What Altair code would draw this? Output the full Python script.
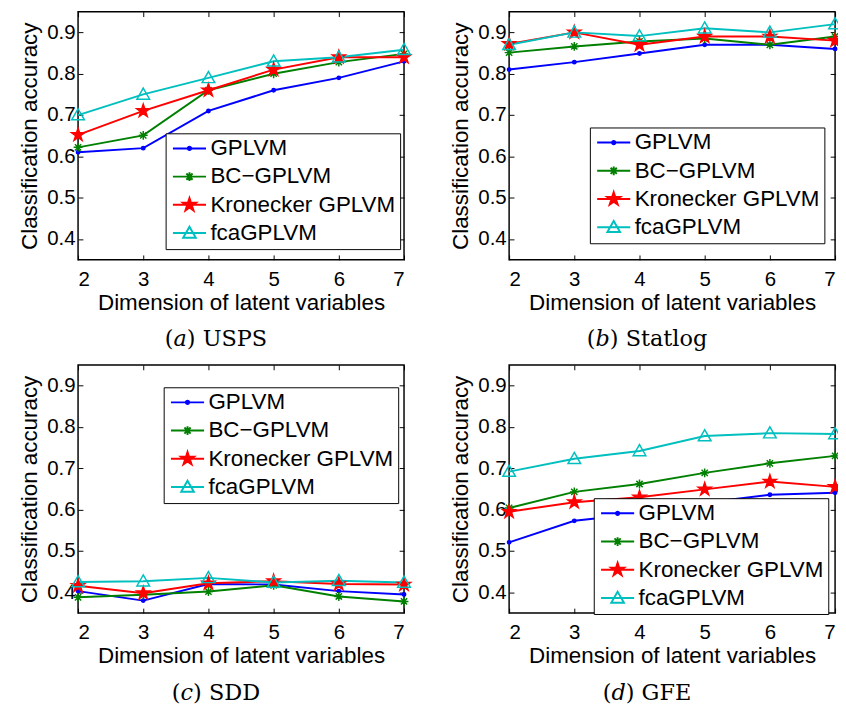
import math
import altair as alt
import pandas as pd

DIMS = [2, 3, 4, 5, 6, 7]
YTICKS = [0.4, 0.5, 0.6, 0.7, 0.8, 0.9]
SERIES = ["GPLVM", "BC−GPLVM", "Kronecker GPLVM", "fcaGPLVM"]
COLORS = ["#0000ff", "#008000", "#ff0000", "#00bfbf"]
FILLS = ["#0000ff", "#008000", "#ff0000", "transparent"]

USPS_GPLVM = [0.61, 0.62, 0.71, 0.76, 0.79, 0.83]
USPS_BC = [0.622, 0.651, 0.76, 0.80, 0.828, 0.848]
USPS_KRON = [0.652, 0.71, 0.76, 0.81, 0.84, 0.84]
USPS_FCA = [0.70, 0.75, 0.79, 0.83, 0.84, 0.858]

STAT_GPLVM = [0.81, 0.828, 0.849, 0.87, 0.87, 0.86]
STAT_BC = [0.851, 0.866, 0.878, 0.885, 0.87, 0.89]
STAT_KRON = [0.872, 0.90, 0.87, 0.89, 0.89, 0.88]
STAT_FCA = [0.87, 0.90, 0.891, 0.91, 0.90, 0.92]

SDD_GPLVM = [0.403, 0.38, 0.42, 0.419, 0.403, 0.395]
SDD_BC = [0.388, 0.394, 0.402, 0.417, 0.39, 0.378]
SDD_KRON = [0.416, 0.398, 0.422, 0.427, 0.42, 0.419]
SDD_FCA = [0.425, 0.427, 0.435, 0.424, 0.428, 0.424]

GFE_GPLVM = [0.521, 0.573, 0.59, 0.617, 0.636, 0.641]
GFE_BC = [0.604, 0.643, 0.662, 0.689, 0.712, 0.73]
GFE_KRON = [0.595, 0.618, 0.63, 0.649, 0.668, 0.655]
GFE_FCA = [0.692, 0.723, 0.742, 0.778, 0.785, 0.783]

W, H = 335, 255
FONT = "Liberation Sans"


# ---- marker shapes (unit square paths) ----
def star_path(R, cx=0.0):
    pts = []
    for i in range(10):
        a = -math.pi / 2 + i * math.pi / 5
        r = R if i % 2 == 0 else R * 0.382
        pts.append(f"{cx + r * math.cos(a):.3f},{r * math.sin(a):.3f}")
    return "M" + "L".join(pts) + "Z"


def tri_path(R):
    return f"M0,{-R:.3f}L{R:.3f},{0.75 * R:.3f}L{-R:.3f},{0.75 * R:.3f}Z"


def ast_path(R):
    a = R * 0.707
    return (f"M{-R:.3f},0L{R:.3f},0M0,{-R:.3f}L0,{R:.3f}"
            f"M{-a:.3f},{-a:.3f}L{a:.3f},{a:.3f}M{-a:.3f},{a:.3f}L{a:.3f},{-a:.3f}")


def dot_path(R):
    return f"M{-R:.3f},0A{R:.3f},{R:.3f} 0 1,0 {R:.3f},0A{R:.3f},{R:.3f} 0 1,0 {-R:.3f},0Z"


# plot markers: size 196 -> 7 px per unit
MARKERS = [dot_path(0.25), ast_path(0.65), star_path(1.0), tri_path(0.93)]
# legend markers: size 400 -> 10 px per unit, with line through
LINE = "M-1.7,0L1.7,0"
LEG_MARKERS = [LINE + dot_path(0.17), LINE + ast_path(0.45),
               LINE + star_path(0.7), LINE + tri_path(0.65)]


def make_df(series_lists):
    rows = []
    for name, vals in zip(SERIES, series_lists):
        for d, v in zip(DIMS, vals):
            rows.append({"series": name, "dim": d, "acc": v})
    return pd.DataFrame(rows)


def tick_axis(orient, offset, values, fmt):
    return alt.Axis(orient=orient, offset=offset, values=values, labels=False,
                    title=None, tickSize=5, tickWidth=1, tickColor="black",
                    domain=False, grid=False, format=fmt, minExtent=0)


def panel(df, title, lx, ly):
    base = alt.Chart(df)
    xs = alt.Scale(domain=[2, 7], nice=False)
    ys = alt.Scale(domain=[0.35, 0.95], nice=False, zero=False)
    st = alt.Scale(domain=SERIES, range=COLORS)
    fl = alt.Scale(domain=SERIES, range=FILLS)

    x_main = alt.Axis(values=DIMS, format="d", title="Dimension of latent variables",
                      orient="bottom", tickSize=0, domain=False, grid=False,
                      labelPadding=9, titlePadding=3)
    y_main = alt.Axis(values=YTICKS, format=".1f", title="Classification accuracy",
                      orient="left", tickSize=0, domain=False, grid=False,
                      labelPadding=3, titlePadding=6)

    lines = base.mark_line(strokeWidth=2).encode(
        x=alt.X("dim:Q", scale=xs, axis=x_main),
        y=alt.Y("acc:Q", scale=ys, axis=y_main),
        stroke=alt.Stroke("series:N", scale=st, legend=None),
    )
    pts = base.mark_point(size=196, strokeWidth=1.5, opacity=1).encode(
        x=alt.X("dim:Q", scale=xs, axis=tick_axis("top", -H, DIMS, "d")),
        y=alt.Y("acc:Q", scale=ys, axis=tick_axis("right", -W, YTICKS, ".1f")),
        shape=alt.Shape("series:N", scale=alt.Scale(domain=SERIES, range=MARKERS), legend=None),
        stroke=alt.Stroke("series:N", scale=st, legend=None),
        fill=alt.Fill("series:N", scale=fl, legend=None),
    )
    leg = alt.Legend(title=None, orient="none", legendX=lx, legendY=ly,
                     fillColor="white", strokeColor="black", padding=4,
                     symbolOffset=9, symbolSize=400, symbolStrokeWidth=2,
                     symbolOpacity=1, labelFont=FONT, labelFontSize=23,
                     labelOffset=10, labelLimit=400, rowPadding=5,
                     labelColor="black")
    legend_layer = base.transform_filter("false").mark_point(size=400, strokeWidth=2, opacity=1).encode(
        x=alt.X("dim:Q", scale=xs, axis=tick_axis("bottom", -H, DIMS, "d")),
        y=alt.Y("acc:Q", scale=ys, axis=tick_axis("left", -W, YTICKS, ".1f")),
        shape=alt.Shape("series:N", scale=alt.Scale(domain=SERIES, range=LEG_MARKERS), legend=leg),
        stroke=alt.Stroke("series:N", scale=st, legend=leg),
        fill=alt.Fill("series:N", scale=fl, legend=leg),
    )
    return (
        alt.layer(lines, pts, legend_layer)
        .resolve_scale(shape="independent", stroke="independent", fill="independent")
        .resolve_axis(x="independent", y="independent")
        .resolve_legend(shape="independent", stroke="independent", fill="independent")
        .properties(
            width=W, height=H,
            title=alt.Title(title, orient="bottom", font="DejaVu Serif", fontSize=23,
                            fontWeight="normal", offset=15, anchor="middle",
                            frame="bounds", color="black"),
        )
    )


pa = panel(make_df([USPS_GPLVM, USPS_BC, USPS_KRON, USPS_FCA]), "(𝑎) USPS", 90, 125)
pb = panel(make_df([STAT_GPLVM, STAT_BC, STAT_KRON, STAT_FCA]), "(𝑏) Statlog", 83, 119)
pc = panel(make_df([SDD_GPLVM, SDD_BC, SDD_KRON, SDD_FCA]), "(𝑐) SDD", 88, 23)
pd_ = panel(make_df([GFE_GPLVM, GFE_BC, GFE_KRON, GFE_FCA]), "(𝑑) GFE", 87, 137)


def ind(c):
    return (c.resolve_scale(shape="independent", stroke="independent", fill="independent")
             .resolve_legend(shape="independent", stroke="independent", fill="independent"))


row1 = ind(alt.hconcat(pa, pb, spacing=35))
row2 = ind(alt.hconcat(pc, pd_, spacing=35))
chart = ind(alt.vconcat(row1, row2, spacing=11)).properties(
    padding={"left": 10, "top": -8, "right": -8, "bottom": 0}
).configure(font=FONT).configure_view(
    stroke="black", strokeWidth=1.5
).configure_axis(
    labelFont=FONT, labelFontSize=21, labelColor="black",
    titleFont=FONT, titleFontSize=23, titleFontWeight="normal", titleColor="black",
)

chart.save("out.html", embed_options={"renderer": "svg", "actions": False})
